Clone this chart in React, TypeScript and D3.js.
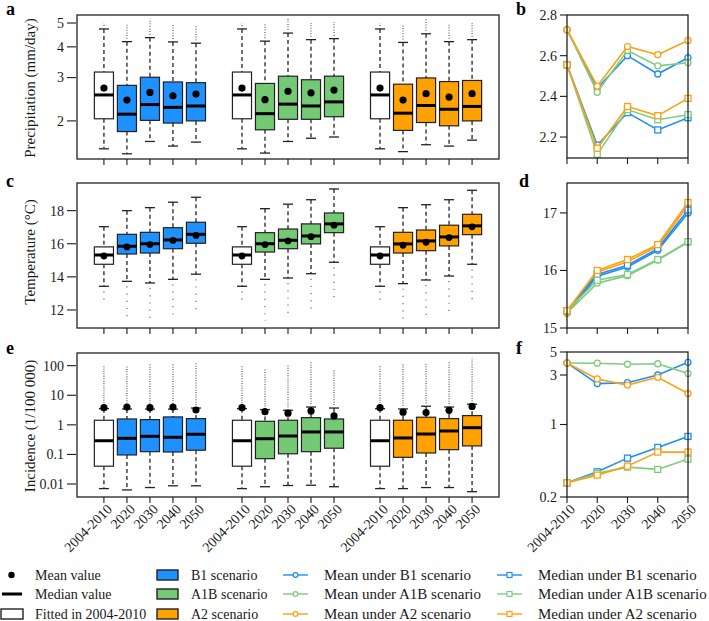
import React from "react";
import * as d3 from "d3";

// ---------- categories ----------
const periods = ["2004-2010", "2020", "2030", "2040", "2050"];
const scenarios = ["B1", "A1B", "A2"];

// ---------- panel a: precipitation (15 boxes: [base, B1 x4, base, A1B x4, base, A2 x4]) ----------
const precipLo = [1.54, 1.47, 1.65, 1.58, 1.64, 1.54, 1.48, 1.65, 1.70, 1.72, 1.54, 1.50, 1.60, 1.58, 1.67];
const precipQ1 = [2.04, 1.81, 2.01, 1.96, 2.00, 2.04, 1.84, 2.03, 2.03, 2.08, 2.04, 1.83, 1.97, 1.91, 2.00];
const precipMed = [2.55, 2.13, 2.33, 2.27, 2.30, 2.55, 2.14, 2.34, 2.30, 2.39, 2.55, 2.15, 2.31, 2.23, 2.29];
const precipQ3 = [3.16, 2.79, 3.01, 2.88, 2.86, 3.16, 2.84, 3.04, 2.94, 3.04, 3.16, 2.82, 2.99, 2.89, 2.92];
const precipHi = [4.73, 4.20, 4.36, 4.19, 4.14, 4.73, 4.22, 4.55, 4.28, 4.32, 4.73, 4.17, 4.52, 4.20, 4.28];
const precipMean = [2.72, 2.43, 2.61, 2.53, 2.57, 2.72, 2.44, 2.64, 2.60, 2.67, 2.72, 2.43, 2.58, 2.50, 2.58];
const precipOutMax = [5.0, 5.0, 5.2, 4.95, 4.9, 5.0, 5.0, 5.2, 5.0, 5.05, 5.0, 4.95, 5.2, 4.95, 5.0];

// ---------- panel c: temperature ----------
const tempLo = [13.43, 13.73, 13.63, 13.85, 14.16, 13.43, 13.85, 13.93, 14.19, 14.88, 13.43, 13.59, 13.81, 14.05, 14.76];
const tempQ1 = [14.76, 15.38, 15.44, 15.70, 16.03, 14.76, 15.50, 15.70, 15.99, 16.67, 14.76, 15.44, 15.58, 15.87, 16.55];
const tempMed = [15.32, 15.85, 16.00, 16.23, 16.57, 15.32, 16.00, 16.21, 16.47, 17.20, 15.32, 15.99, 16.17, 16.41, 17.08];
const tempQ3 = [15.81, 16.57, 16.69, 16.97, 17.30, 15.81, 16.67, 16.89, 17.20, 17.86, 15.81, 16.69, 16.83, 17.12, 17.78];
const tempHi = [17.03, 18.00, 18.18, 18.51, 18.81, 17.03, 18.12, 18.39, 18.66, 19.31, 17.03, 18.18, 18.36, 18.66, 19.23];
const tempMean = [15.26, 15.81, 15.95, 16.20, 16.50, 15.26, 15.95, 16.17, 16.43, 17.12, 15.26, 15.91, 16.09, 16.37, 17.02];
const tempOutMin = [12.36, 11.26, 11.35, 11.58, 11.88, 12.36, 11.35, 11.60, 11.80, 12.47, 12.36, 11.23, 11.44, 11.72, 12.42];

// ---------- panel e: incidence ----------
const incLo = [0.007, 0.0063, 0.0076, 0.0087, 0.0087, 0.007, 0.0081, 0.0089, 0.0091, 0.0081, 0.007, 0.007, 0.0076, 0.0076, 0.0055];
const incQ1 = [0.040, 0.096, 0.124, 0.121, 0.139, 0.040, 0.072, 0.105, 0.124, 0.162, 0.040, 0.080, 0.112, 0.145, 0.194];
const incMed = [0.29, 0.35, 0.41, 0.38, 0.48, 0.29, 0.34, 0.42, 0.575, 0.575, 0.29, 0.36, 0.49, 0.62, 0.80];
const incQ3 = [1.43, 1.58, 1.50, 1.85, 1.62, 1.43, 1.32, 1.43, 1.75, 1.58, 1.43, 1.43, 1.81, 1.62, 2.05];
const incHi = [3.52, 3.44, 3.4, 3.4, 3.7, 3.52, 3.27, 3.11, 4.0, 3.7, 3.52, 3.44, 4.25, 4.0, 4.97];
const incMean = [3.81, 4.0, 3.8, 4.0, 3.17, 3.81, 2.79, 2.47, 2.95, 2.0, 3.81, 2.67, 2.6, 3.1, 4.2];
const incOutMax = [97, 100, 114, 126, 126, 97, 75, 110, 144, 75, 97, 114, 120, 140, 186];

// ---------- panel b: precipitation lines ----------
const bMeanB1 = [2.728, 2.44, 2.60, 2.51, 2.59];
const bMeanA1B = [2.728, 2.42, 2.625, 2.55, 2.565];
const bMeanA2 = [2.728, 2.45, 2.645, 2.605, 2.675];
const bMedB1 = [2.555, 2.16, 2.32, 2.235, 2.295];
const bMedA1B = [2.555, 2.115, 2.335, 2.285, 2.31];
const bMedA2 = [2.555, 2.145, 2.35, 2.305, 2.39];

// ---------- panel d: temperature lines ----------
const dMeanB1 = [15.26, 15.90, 16.06, 16.35, 17.00];
const dMeanA1B = [15.26, 15.78, 15.91, 16.18, 16.49];
const dMeanA2 = [15.26, 15.97, 16.15, 16.42, 17.13];
const dMedB1 = [15.30, 15.93, 16.09, 16.38, 17.05];
const dMedA1B = [15.30, 15.83, 15.93, 16.19, 16.50];
const dMedA2 = [15.30, 16.00, 16.19, 16.45, 17.18];

// ---------- panel f: incidence lines ----------
const fMeanB1 = [3.92, 2.48, 2.53, 3.0, 3.98];
const fMeanA1B = [3.92, 3.90, 3.81, 3.85, 3.10];
const fMeanA2 = [3.92, 2.75, 2.40, 2.85, 1.99];
const fMedB1 = [0.274, 0.35, 0.474, 0.601, 0.767];
const fMedA1B = [0.274, 0.338, 0.388, 0.369, 0.464];
const fMedA2 = [0.274, 0.325, 0.397, 0.542, 0.542];

// ---------- tick values ----------
const ticksA = [2, 3, 4, 5];
const ticksC = [12, 14, 16, 18];
const ticksE = [0.01, 0.1, 1, 10, 100];
const ticksB = [2.2, 2.4, 2.6, 2.8];
const ticksD = [15, 16, 17];
const ticksF = [0.2, 1, 3, 5];

// ---------- style ----------
const boxFill = ["#1E90FF", "#74C974", "#FFA200"];
const lineCol = ["#1E8EF5", "#7DCD7D", "#FFA010"];
const FONT = "'Liberation Serif', 'Times New Roman', serif";
const INK = "#1a1a1a";

const LX0 = 77, LX1 = 499, RX0 = 567, RX1 = 688;
const rows = [
  { top: 15, bottom: 159 },
  { top: 183, bottom: 328 },
  { top: 353, bottom: 497 },
];

const xBox = d3.scaleLinear().domain([-0.17, 18.17]).range([LX0, LX1]);
const xLine = d3.scalePoint<string>().domain(periods).range([RX0, RX1]);
const boxPos = (k: number) => Math.floor(k / 5) * 6 + (k % 5) + 1;

type Stats = { lo: number[]; q1: number[]; med: number[]; q3: number[]; hi: number[]; mean: number[] };

function YAxis({ x, y, ticks, fmt, len }: any) {
  return (
    <g>
      {ticks.map((t: number) => (
        <g key={t}>
          <line x1={x - len} x2={x} y1={y(t)} y2={y(t)} stroke={INK} strokeWidth={1.1} />
          <text x={x - len - 3} y={y(t)} dy="0.35em" textAnchor="end" fontSize={14} fill={INK} fontFamily={FONT}>
            {fmt(t)}
          </text>
        </g>
      ))}
    </g>
  );
}

function BoxPanel({ row, y, ticks, fmt, s, out, outDir, outDash, dotR, title, titleY, showLabels }: any) {
  const { top, bottom } = row;
  const step = xBox(2) - xBox(1);
  const bw = step * 0.83;
  const cap = 10;
  return (
    <g>
      {s.med.map((_: number, k: number) => {
        const cx = xBox(boxPos(k));
        const g = Math.floor(k / 5);
        const fill = k % 5 === 0 ? "#ffffff" : boxFill[g];
        const yq1 = y(s.q1[k]), yq3 = y(s.q3[k]);
        const whiskerEnd = outDir === "up" ? y(s.hi[k]) : y(s.lo[k]);
        return (
          <g key={k}>
            {outDir === "up" ? (
              <line x1={cx} x2={cx} y1={whiskerEnd - 3} y2={y(out[k])} stroke="#6a6a6a" strokeWidth={1.3} strokeDasharray={outDash} />
            ) : (
              <line x1={cx} x2={cx} y1={whiskerEnd + 5} y2={y(out[k])} stroke="#777" strokeWidth={1.3} strokeDasharray={outDash} />
            )}
            <line x1={cx} x2={cx} y1={y(s.hi[k])} y2={yq3} stroke="#333" strokeWidth={1.4} strokeDasharray="4,3" />
            <line x1={cx} x2={cx} y1={yq1} y2={y(s.lo[k])} stroke="#333" strokeWidth={1.4} strokeDasharray="4,3" />
            <line x1={cx - cap / 2} x2={cx + cap / 2} y1={y(s.hi[k])} y2={y(s.hi[k])} stroke="#222" strokeWidth={1.3} />
            <line x1={cx - cap / 2} x2={cx + cap / 2} y1={y(s.lo[k])} y2={y(s.lo[k])} stroke="#222" strokeWidth={1.3} />
            <rect x={cx - bw / 2} y={yq3} width={bw} height={yq1 - yq3} fill={fill} stroke="#222" strokeWidth={1.2} />
            <line x1={cx - bw / 2} x2={cx + bw / 2} y1={y(s.med[k])} y2={y(s.med[k])} stroke="#000" strokeWidth={3} />
            <circle cx={cx} cy={y(s.mean[k])} r={dotR} fill="#000" />
          </g>
        );
      })}
      <rect x={LX0} y={top} width={LX1 - LX0} height={bottom - top} fill="none" stroke="#222" strokeWidth={1.3} />
      {s.med.map((_: number, k: number) => {
        const cx = xBox(boxPos(k));
        return <line key={"t" + k} x1={cx} x2={cx} y1={bottom} y2={bottom + 6} stroke={INK} strokeWidth={1.1} />;
      })}
      {showLabels &&
        s.med.map((_: number, k: number) => {
          const cx = xBox(boxPos(k));
          return (
            <text key={"l" + k} transform={`translate(${cx + 9},${bottom + 13}) rotate(-45)`} textAnchor="end" fontSize={14} fill={INK} fontFamily={FONT}>
              {periods[k % 5]}
            </text>
          );
        })}
      <YAxis x={LX0 - 1} y={y} ticks={ticks} fmt={fmt} len={9} />
      <text transform={`translate(35,${titleY}) rotate(-90)`} textAnchor="middle" fontSize={15} fill={INK} fontFamily={FONT}>
        {title}
      </text>
    </g>
  );
}

function LinePanel({ row, y, ticks, fmt, means, meds, showLabels }: any) {
  const { top, bottom } = row;
  const line = d3.line<number>().x((_, i) => xLine(periods[i]) as number).y((v) => y(v));
  return (
    <g>
      {means.map((ser: number[], j: number) => (
        <g key={"m" + j}>
          <path d={line(ser) as string} fill="none" stroke={lineCol[j]} strokeWidth={1.6} />
          {ser.map((v, i) => (
            <circle key={i} cx={xLine(periods[i])} cy={y(v)} r={3} fill="#fff" stroke={lineCol[j]} strokeWidth={1.3} />
          ))}
        </g>
      ))}
      {meds.map((ser: number[], j: number) => (
        <g key={"d" + j}>
          <path d={line(ser) as string} fill="none" stroke={lineCol[j]} strokeWidth={1.6} />
          {ser.map((v, i) => (
            <rect key={i} x={(xLine(periods[i]) as number) - 3} y={y(v) - 3} width={6} height={6} fill="#fff" stroke={lineCol[j]} strokeWidth={1.3} />
          ))}
        </g>
      ))}
      <rect x={RX0} y={top} width={RX1 - RX0} height={bottom - top} fill="none" stroke="#222" strokeWidth={1.3} />
      {periods.map((p) => (
        <line key={p} x1={xLine(p)} x2={xLine(p)} y1={bottom} y2={bottom + 6} stroke={INK} strokeWidth={1.1} />
      ))}
      {showLabels &&
        periods.map((p) => (
          <text key={"l" + p} transform={`translate(${(xLine(p) as number) + 9},${bottom + 13}) rotate(-45)`} textAnchor="end" fontSize={14} fill={INK} fontFamily={FONT}>
            {p}
          </text>
        ))}
      <YAxis x={RX0} y={y} ticks={ticks} fmt={fmt} len={7} />
    </g>
  );
}

export default function App() {
  const yA = d3.scaleLog().domain([1.40, 5.39]).range([rows[0].bottom, rows[0].top]);
  const yC = d3.scaleLinear().domain([10.91, 19.67]).range([rows[1].bottom, rows[1].top]);
  const yE = d3.scaleLog().domain([0.00364, 268]).range([rows[2].bottom, rows[2].top]);
  const yB = d3.scaleLinear().domain([2.097, 2.8]).range([158, rows[0].top]);
  const yD = d3.scaleLinear().domain([15, 17.52]).range([rows[1].bottom, rows[1].top]);
  const yF = d3.scaleLog().domain([0.2, 5]).range([rows[2].bottom, 352]);

  const sA: Stats = { lo: precipLo, q1: precipQ1, med: precipMed, q3: precipQ3, hi: precipHi, mean: precipMean };
  const sC: Stats = { lo: tempLo, q1: tempQ1, med: tempMed, q3: tempQ3, hi: tempHi, mean: tempMean };
  const sE: Stats = { lo: incLo, q1: incQ1, med: incMed, q3: incQ3, hi: incHi, mean: incMean };

  const fmtNum = (v: number) => String(v);
  const fmt1 = d3.format(".1f");

  const legendRows = [575, 594, 614];
  const letter = (t: string, x: number, y: number) => (
    <text x={x} y={y} fontSize={18} fontWeight="bold" fill="#000" fontFamily={FONT}>
      {t}
    </text>
  );
  const lt = (t: string, x: number, y: number, fs = 14) => (
    <text x={x} y={y} dy="0.35em" fontSize={fs} fill={INK} fontFamily={FONT}>
      {t}
    </text>
  );

  return (
    <svg width={709} height={621} style={{ position: "absolute", left: 0, top: 0, background: "#fff" }}>
      <rect width={709} height={621} fill="#fff" />
      <BoxPanel row={rows[0]} y={yA} ticks={ticksA} fmt={fmtNum} s={sA} out={precipOutMax} outDir="up" outDash="1,1.6" dotR={3.6} title="Precipitation (mm/day)" titleY={88} showLabels={false} />
      <BoxPanel row={rows[1]} y={yC} ticks={ticksC} fmt={fmtNum} s={sC} out={tempOutMin} outDir="down" outDash="1.2,6" dotR={3.4} title="Temperature (°C)" titleY={252} showLabels={false} />
      <BoxPanel row={rows[2]} y={yE} ticks={ticksE} fmt={fmtNum} s={sE} out={incOutMax} outDir="up" outDash="1,1.4" dotR={3.6} title="Incidence (1/100 000)" titleY={426} showLabels={true} />

      <LinePanel row={{ top: 15, bottom: 158 }} y={yB} ticks={ticksB} fmt={fmt1} means={[bMeanB1, bMeanA1B, bMeanA2]} meds={[bMedB1, bMedA1B, bMedA2]} showLabels={false} />
      <LinePanel row={rows[1]} y={yD} ticks={ticksD} fmt={fmtNum} means={[dMeanB1, dMeanA1B, dMeanA2]} meds={[dMedB1, dMedA1B, dMedA2]} showLabels={false} />
      <LinePanel row={{ top: 352, bottom: 497 }} y={yF} ticks={ticksF} fmt={fmtNum} means={[fMeanB1, fMeanA1B, fMeanA2]} meds={[fMedB1, fMedA1B, fMedA2]} showLabels={true} />

      {letter("a", 6, 15)}
      {letter("b", 516, 15)}
      {letter("c", 6, 187)}
      {letter("d", 519, 187)}
      {letter("e", 6, 354)}
      {letter("f", 516, 354)}

      {/* legend */}
      <g>
        <circle cx={11.5} cy={legendRows[0]} r={3.2} fill="#000" />
        <line x1={2} x2={22} y1={legendRows[1]} y2={legendRows[1]} stroke="#000" strokeWidth={3} />
        <rect x={1} y={legendRows[2] - 5} width={22} height={10} fill="#fff" stroke="#222" strokeWidth={1.4} />
        {lt("Mean value", 35, legendRows[0])}
        {lt("Median value", 35, legendRows[1])}
        {lt("Fitted in 2004-2010", 35, legendRows[2])}

        {scenarios.map((sc, j) => (
          <g key={sc}>
            <rect x={157} y={legendRows[j] - 5} width={21} height={10} fill={boxFill[j]} stroke="#222" strokeWidth={1.4} />
            {lt(`${sc} scenario`, 191, legendRows[j])}
            <line x1={283} x2={308} y1={legendRows[j]} y2={legendRows[j]} stroke={lineCol[j]} strokeWidth={1.4} />
            <circle cx={295.5} cy={legendRows[j]} r={2.4} fill="#fff" stroke={lineCol[j]} strokeWidth={1.2} />
            {lt(`Mean under ${sc} scenario`, 324, legendRows[j], 15)}
            <line x1={497} x2={522} y1={legendRows[j]} y2={legendRows[j]} stroke={lineCol[j]} strokeWidth={1.4} />
            <rect x={507} y={legendRows[j] - 2.5} width={5} height={5} fill="#fff" stroke={lineCol[j]} strokeWidth={1.2} />
            {lt(`Median under ${sc} scenario`, 538, legendRows[j], 15)}
          </g>
        ))}
      </g>
    </svg>
  );
}
